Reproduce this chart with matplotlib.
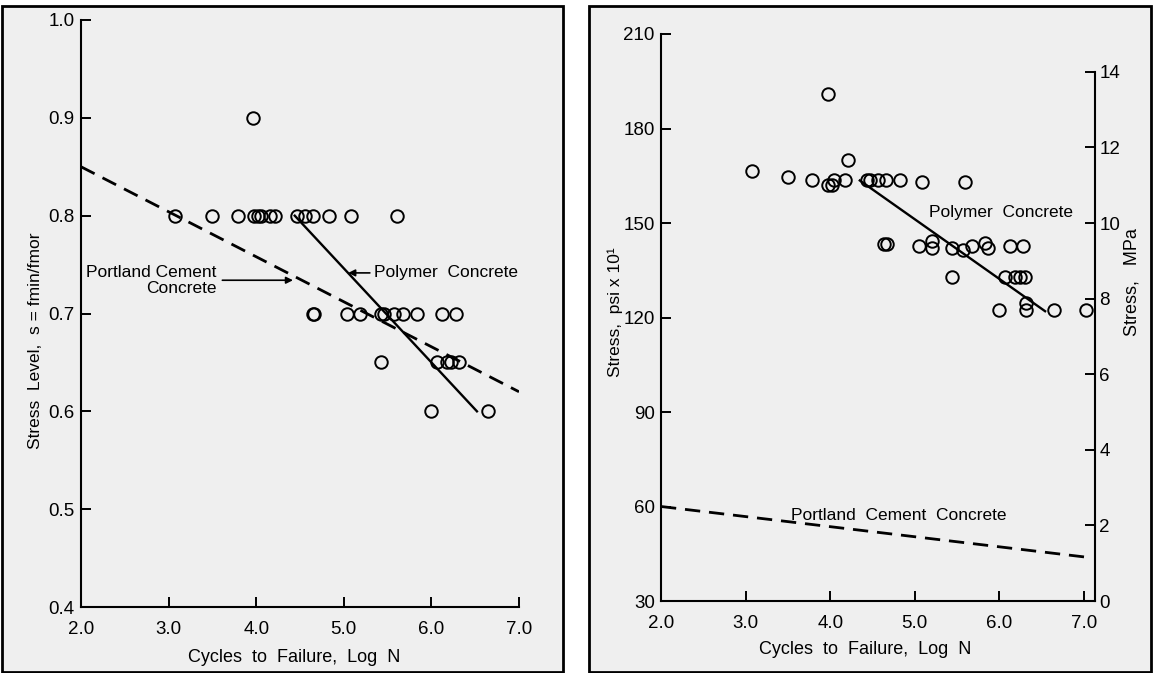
import matplotlib.pyplot as plt
from matplotlib.patches import Rectangle

plt.rcParams['font.family'] = ['Liberation Sans', 'DejaVu Sans']

# ---- left panel data: stress level vs log N ----
left_logN = [3.07, 3.50, 3.79, 3.97, 4.02, 4.05, 4.16, 4.21, 4.47, 4.56, 4.65, 4.83, 5.08, 5.61,
             3.96,
             4.65, 4.66, 5.04, 5.19, 5.42, 5.46, 5.57, 5.68, 5.84, 6.12, 6.28,
             5.42, 6.06, 6.18, 6.22, 6.31,
             6.00, 6.65]
left_s = [0.80] * 14 + [0.90] + [0.70] * 11 + [0.65] * 5 + [0.60] * 2

left_poly_x = [4.44, 6.52]
left_poly_y = [0.80, 0.60]
left_pcc_x = [2.0, 7.0]
left_pcc_y = [0.85, 0.62]

# ---- right panel data: stress (psi x 10) vs log N ----
right_logN = [3.97, 3.07, 3.50, 3.79, 3.97, 4.02, 4.05, 4.17, 4.21, 4.44, 4.47, 4.57, 4.66, 4.83, 5.08, 5.59,
              4.64, 4.67, 5.05, 5.20, 5.20, 5.44, 5.57, 5.68, 5.83, 5.86, 6.13, 6.28,
              5.44, 6.07, 6.18, 6.24, 6.30,
              6.00, 6.31, 6.31, 6.65, 7.02]
right_psi = [191, 166.5, 164.5, 163.5, 162, 162, 163.5, 163.5, 170, 163.5, 163.5, 163.5, 163.5, 163.5, 163, 163,
             143.2, 143.2, 142.7, 144.3, 142, 142, 141.4, 142.7, 143.5, 142, 142.7, 142.7,
             133, 133, 133, 133, 133,
             122.4, 124.5, 122.4, 122.4, 122.4]

right_poly_x = [4.35, 6.54]
right_poly_y = [163.5, 122]
right_pcc_x = [2.0, 7.0]
right_pcc_y = [60, 44]

x_ticks = [2, 3, 4, 5, 6, 7]
x_labels = ['2.0', '3.0', '4.0', '5.0', '6.0', '7.0']
left_yticks = [0.4, 0.5, 0.6, 0.7, 0.8, 0.9, 1.0]
psi_ticks = [30, 60, 90, 120, 150, 180, 210]
mpa_ticks = [0, 2, 4, 6, 8, 10, 12, 14]

W, H = 1154, 673


def rect(x0, y0, x1, y1):
    return [x0 / W, 1 - y1 / H, (x1 - x0) / W, (y1 - y0) / H]


fig = plt.figure(figsize=(11.54, 6.73), dpi=100)
fig.patch.set_facecolor('white')
for fx0, fx1 in [(2, 563), (589, 1151)]:
    fig.patches.append(Rectangle((fx0 / W, 1 / H), (fx1 - fx0) / W, 666 / H,
                                 transform=fig.transFigure, facecolor='#efefef',
                                 edgecolor='black', lw=2, zorder=-5))

mk = dict(marker='o', ms=9, mfc='none', mec='black', mew=1.4, ls='none')
dash = (0, (5.5, 3.2))

# Left panel
ax1 = fig.add_axes(rect(81, 20, 519, 607))
ax1.set_facecolor('none')
ax1.plot(left_logN, left_s, **mk, zorder=3)
ax1.plot(left_poly_x, left_poly_y, color='black', lw=1.7)
ax1.plot(left_pcc_x, left_pcc_y, color='black', lw=2.0, linestyle=dash)
ax1.set_xlim(2, 7)
ax1.set_ylim(0.4, 1.0)
ax1.set_xticks(x_ticks, x_labels)
ax1.set_yticks(left_yticks, [f'{v:.1f}' for v in left_yticks])
for s in ['top', 'right']:
    ax1.spines[s].set_visible(False)
for s in ['left', 'bottom']:
    ax1.spines[s].set_linewidth(1.5)
ax1.tick_params(axis='both', direction='in', length=7, width=1.4, labelsize=13.5)
ax1.tick_params(axis='x', pad=10)
ax1.tick_params(axis='y', pad=4.5)
ax1.annotate('Portland Cement\nConcrete', xy=(4.42, 0.734), xytext=(3.55, 0.734),
             ha='right', va='center', fontsize=12.5, linespacing=1.1,
             arrowprops=dict(arrowstyle='-|>', color='black', lw=1.2,
                             mutation_scale=10, shrinkA=2, shrinkB=0))
ax1.annotate('Polymer  Concrete', xy=(5.05, 0.7415), xytext=(5.345, 0.7415),
             ha='left', va='center', fontsize=12.5,
             arrowprops=dict(arrowstyle='-|>', color='black', lw=1.2,
                             mutation_scale=10, shrinkA=1, shrinkB=0))
fig.text(294.5 / W, 1 - 658 / H, 'Cycles  to  Failure,  Log  N', ha='center', va='center', fontsize=13)
fig.text(36 / W, 1 - 341 / H, 'Stress  Level,  s = fmin/fmor', ha='center', va='center',
         rotation=90, fontsize=12.5)

# Right panel
ax2 = fig.add_axes(rect(661, 34, 1095, 601))
ax2.set_facecolor('none')
ax2.plot(right_logN, right_psi, **mk, zorder=3)
ax2.plot(right_poly_x, right_poly_y, color='black', lw=1.7)
ax2.plot(right_pcc_x, right_pcc_y, color='black', lw=2.0, linestyle=dash)
ax2.set_xlim(2, 7.13)
ax2.set_ylim(30, 210)
ax2.set_xticks(x_ticks, x_labels)
ax2.set_yticks(psi_ticks, [str(v) for v in psi_ticks])
for s in ['top', 'right']:
    ax2.spines[s].set_visible(False)
for s in ['left', 'bottom']:
    ax2.spines[s].set_linewidth(1.5)
ax2.tick_params(axis='both', direction='in', length=7, width=1.4, labelsize=13.5)
ax2.tick_params(axis='x', pad=10)
ax2.tick_params(axis='y', pad=4.5)
ax2.text(5.17, 153.2, 'Polymer  Concrete', ha='left', va='center', fontsize=12.5)
ax2.text(3.54, 57.3, 'Portland  Cement  Concrete', ha='left', va='center', fontsize=12.5)

ax3 = ax2.twinx()
ax3.set_ylim(0, 15.0)
ax3.set_yticks(mpa_ticks, [str(v) for v in mpa_ticks])
for s in ['top', 'left', 'bottom']:
    ax3.spines[s].set_visible(False)
ax3.spines['right'].set_bounds(0, 14)
ax3.spines['right'].set_linewidth(1.5)
ax3.tick_params(axis='y', direction='in', length=7, width=1.4, labelsize=13.5, pad=3)

fig.text(865.5 / W, 1 - 650 / H, 'Cycles  to  Failure,  Log  N', ha='center', va='center', fontsize=13)
fig.text(615 / W, 1 - 312 / H, 'Stress,  psi x 10\u00b9', ha='center', va='center',
         rotation=90, fontsize=12.5)
fig.text(1132 / W, 1 - 282 / H, 'Stress,   MPa', ha='center', va='center',
         rotation=90, fontsize=13)

fig.savefig('out.png', dpi=100)
